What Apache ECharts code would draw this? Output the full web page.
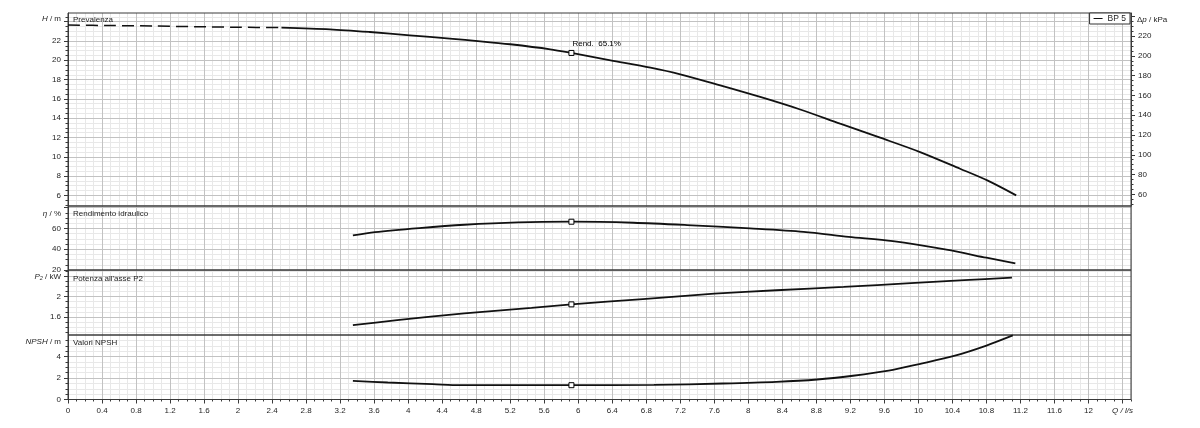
<!DOCTYPE html>
<html><head><meta charset="utf-8">
<script src="https://cdn.jsdelivr.net/npm/echarts@6/dist/echarts.min.js"></script>
<style>html,body{margin:0;padding:0;background:#fff}#c{width:1200px;height:428px}</style>
</head><body><div id="c"></div>
<script>
// ---------- DATA ----------
// Head curve (H / m) vs flow (Q / l/s)
const qHeadDashed = [0, 0.5, 1.0, 1.5, 2.0, 2.51];
const headDashed  = [23.65, 23.6, 23.55, 23.48, 23.42, 23.39];
const qHead = [2.51, 3.08, 3.55, 4.02, 4.49, 4.85, 5.2, 5.67, 5.92, 6.38, 6.85, 7.2, 7.67, 8.14, 8.61, 9.08, 9.55, 10.02, 10.49, 10.81, 11.15];
const head  = [23.39, 23.21, 22.93, 22.59, 22.25, 21.97, 21.66, 21.14, 20.76, 20.0, 19.24, 18.55, 17.4, 16.2, 14.9, 13.43, 11.98, 10.49, 8.76, 7.55, 6.0];
// Hydraulic efficiency (%)
const qEta = [3.35, 3.61, 4.13, 4.66, 5.29, 5.92, 6.65, 7.28, 8.02, 8.65, 9.18, 9.7, 10.33, 10.8, 11.14];
const eta  = [53.2, 56.4, 60.3, 63.5, 65.8, 66.4, 65.4, 63.2, 60.0, 56.7, 51.9, 47.7, 39.5, 31.8, 26.3];
// Shaft power P2 (kW)
const qPow = [3.35, 3.87, 4.66, 5.45, 5.92, 6.76, 7.6, 8.33, 9.12, 9.91, 10.54, 11.1];
const pow  = [1.434, 1.534, 1.668, 1.78, 1.848, 1.954, 2.06, 2.128, 2.194, 2.268, 2.328, 2.38];
// NPSH (m)
const qNpsh = [3.35, 3.76, 4.29, 4.61, 5.92, 6.89, 7.7, 8.33, 8.81, 9.23, 9.65, 10.01, 10.43, 10.8, 11.11];
const npsh  = [1.74, 1.58, 1.43, 1.33, 1.33, 1.36, 1.49, 1.64, 1.86, 2.21, 2.68, 3.3, 4.08, 5.02, 5.96];
// Operating point
const opQ = 5.92, opH = 20.76, opEta = 66.4, opPow = 1.848, opNpsh = 1.33, opRend = 65.1;
const seriesName = 'BP 5';
// Tick labels
const headLabels = [6, 8, 10, 12, 14, 16, 18, 20, 22];
const headTicks  = [6, 8, 10, 12, 14, 16, 18, 20, 22, 24];
const kpaLabels  = [60, 80, 100, 120, 140, 160, 180, 200, 220];
const kpaTicks   = [60, 80, 100, 120, 140, 160, 180, 200, 220, 240];
const etaLabels  = [20, 40, 60];
const etaTicks   = [20, 40, 60, 80];
const powLabels  = [1.6, 2];
const powTicks   = [1.6, 2, 2.4];
const npshLabels = [0, 2, 4];
const npshTicks  = [0, 2, 4];
const qLastLabel = 12.4; // position of the "Q / l/s" axis title

// ---------- STYLE ----------
const F = "'Liberation Sans', Arial, sans-serif";
const TXT = '#1e1e1e', MAJ = '#c2c2c2', MIN = '#e8e8e8', BORDER = '#3a3a3a', CURVE = '#111';
const FS = 8;
const RICH = { i: { fontStyle: 'italic', fontSize: FS, fontFamily: F, color: TXT } };

function range(a, b, s) { const o = []; for (let v = a; v <= b + 1e-9; v += s) o.push(Math.round(v * 1000) / 1000); return o; }
function zip(xs, ys) { return xs.map((x, i) => [x, ys[i]]); }

const grids = [
  { top: 13, height: 193 },
  { top: 206, height: 64 },
  { top: 270, height: 65 },
  { top: 335, height: 64.5 }
].map(g => Object.assign({ left: 68, right: 69, show: true, z: 2, backgroundColor: 'transparent', borderColor: BORDER, borderWidth: 1, containLabel: false, outerBoundsMode: 'none' }, g));

function fmtQ(v) {
  if (Math.abs(v - qLastLabel) < 1e-6) return '{i|Q / l/s}';
  return String(+v.toFixed(1));
}

function xPair(g, bottom) {
  return [
    { type: 'value', gridIndex: g, min: 0, max: 12.5, interval: 0.4, position: 'bottom', z: 1,
      axisLine: { show: bottom, onZero: false, lineStyle: { color: BORDER } },
      axisTick: { show: bottom, length: 4, lineStyle: { color: BORDER } },
      axisLabel: { show: bottom, showMaxLabel: false, margin: 7, fontSize: FS, fontFamily: F, color: TXT, formatter: fmtQ, rich: RICH },
      splitLine: { show: true, lineStyle: { color: MAJ, width: 1 } } },
    { type: 'value', gridIndex: g, min: 0, max: 12.5, interval: 0.1, position: 'bottom', z: 0,
      axisLine: { show: false, onZero: false },
      axisTick: { show: bottom, length: 2, lineStyle: { color: BORDER } },
      axisLabel: { show: false },
      splitLine: { show: true, lineStyle: { color: MIN, width: 1 } } }
  ];
}

function yPair(g, min, max, major, labels, minor, name, nameGap, pos) {
  const right = pos === 'right';
  return [
    { type: 'value', gridIndex: g, min: min, max: max, position: pos, z: 1,
      name: name, nameLocation: 'end', nameGap: nameGap, nameMoveOverlap: false,
      nameTextStyle: { fontFamily: F, fontSize: FS, color: TXT, align: right ? 'left' : 'right', verticalAlign: 'middle', padding: right ? [0, 0, 0, 6] : [0, 7, 0, 0], rich: RICH },
      axisLine: { show: true, onZero: false, lineStyle: { color: BORDER } },
      axisTick: { show: true, length: 4, customValues: major, lineStyle: { color: BORDER } },
      axisLabel: { show: true, customValues: labels, margin: 7, fontSize: FS, fontFamily: F, color: TXT },
      splitLine: { show: !right, lineStyle: { color: MAJ, width: 1 } } },
    { type: 'value', gridIndex: g, min: min, max: max, position: pos, z: 0,
      axisLine: { show: false, onZero: false },
      axisTick: { show: true, length: 2.5, customValues: minor, lineStyle: { color: BORDER } },
      axisLabel: { show: false },
      splitLine: { show: !right, lineStyle: { color: MIN, width: 1 } } }
  ];
}

const xAxes = [].concat(xPair(0, false), xPair(1, false), xPair(2, false), xPair(3, true));
const yAxes = [].concat(
  yPair(0, 4.9, 24.9, headTicks, headLabels, range(5, 24.5, 0.5), '{i|H} / m', -6, 'left'),
  yPair(0, 48.2, 243.3, kpaTicks, kpaLabels, range(50, 240, 5), 'Δ{i|p} / kPa', -7, 'right'),
  yPair(1, 20, 81.5, etaTicks, etaLabels, range(25, 80, 5), '{i|η} / %', -8, 'left'),
  yPair(2, 1.24, 2.53, powTicks, powLabels, range(1.3, 2.5, 0.1), '{i|P₂} / kW', -7, 'left'),
  yPair(3, 0, 6, npshTicks, npshLabels, range(0.5, 5.5, 0.5), '{i|NPSH} / m', -7, 'left')
);

const lineBase = { type: 'line', symbol: 'none', smooth: 0.3, z: 5, silent: true, color: CURVE,
  lineStyle: { color: CURVE, width: 1.8 } };
function opMarker(xi, yi, x, y, label) {
  const s = { type: 'scatter', xAxisIndex: xi, yAxisIndex: yi, data: [[x, y]], symbol: 'rect', symbolSize: 5, z: 6, silent: true,
    itemStyle: { color: '#fff', borderColor: '#000', borderWidth: 1, opacity: 1 } };
  if (label) s.label = { show: true, formatter: label, position: [4, -10], align: 'left', verticalAlign: 'top', fontSize: FS, fontFamily: F, color: '#000', opacity: 1 };
  return s;
}

const titleStyle = { fontSize: FS, fontFamily: F, fontWeight: 'normal', color: TXT };
const option = {
  animation: false,
  backgroundColor: '#fff',
  title: [
    { text: 'Prevalenza', left: 73, top: 16, padding: 0, textStyle: titleStyle },
    { text: 'Rendimento idraulico', left: 73, top: 210, padding: 0, textStyle: titleStyle },
    { text: "Potenza all'asse P2", left: 73, top: 275, padding: 0, textStyle: titleStyle },
    { text: 'Valori NPSH', left: 73, top: 339, padding: 0, textStyle: titleStyle }
  ],
  legend: { data: [{ name: seriesName, icon: 'rect' }], right: 70, top: 13, itemWidth: 9, itemHeight: 1, itemGap: 0,
    padding: [1, 4, 1, 4], borderColor: '#333', borderWidth: 1, backgroundColor: '#fff', selectedMode: false, z: 10,
    textStyle: { fontSize: 8.5, fontFamily: F, color: TXT } },
  grid: grids,
  xAxis: xAxes,
  yAxis: yAxes,
  series: [
    Object.assign({}, lineBase, { name: seriesName + ' ', xAxisIndex: 0, yAxisIndex: 0, data: zip(qHeadDashed, headDashed),
      lineStyle: { color: CURVE, width: 1.5, type: [12, 6] } }),
    Object.assign({}, lineBase, { name: seriesName, xAxisIndex: 0, yAxisIndex: 0, data: zip(qHead, head) }),
    opMarker(0, 0, opQ, opH, 'Rend.  ' + opRend + '%'),
    Object.assign({}, lineBase, { name: 'eta', xAxisIndex: 2, yAxisIndex: 4, data: zip(qEta, eta) }),
    opMarker(2, 4, opQ, opEta),
    Object.assign({}, lineBase, { name: 'p2', xAxisIndex: 4, yAxisIndex: 6, data: zip(qPow, pow) }),
    opMarker(4, 6, opQ, opPow),
    Object.assign({}, lineBase, { name: 'npsh', xAxisIndex: 6, yAxisIndex: 8, data: zip(qNpsh, npsh) }),
    opMarker(6, 8, opQ, opNpsh)
  ]
};
const chart = echarts.init(document.getElementById('c'), null, { renderer: 'canvas' });
chart.setOption(option);
</script></body></html>
